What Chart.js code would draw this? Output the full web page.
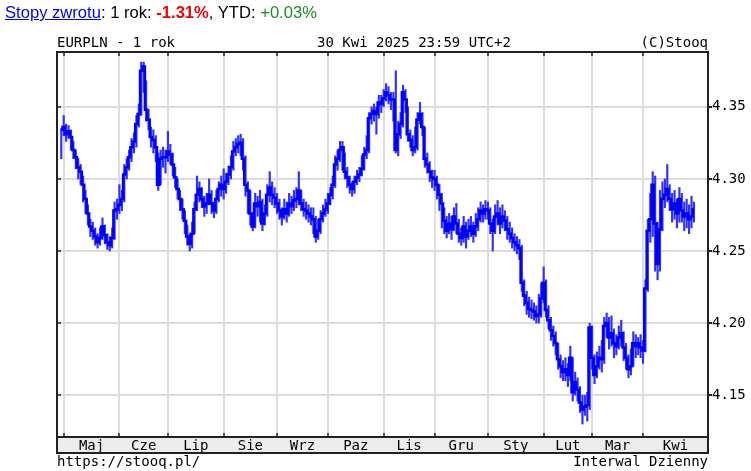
<!DOCTYPE html>
<html>
<head>
<meta charset="utf-8">
<script src="https://cdn.jsdelivr.net/npm/chart.js@4.4.1/dist/chart.umd.min.js"></script>
<style>
  body { margin: 0; background: #fff; }
  #wrap { position: relative; width: 751px; height: 471px; overflow: hidden; }
  #chart { position: absolute; left: 0; top: 0; }
  .t { position: absolute; white-space: nowrap; }
  .head { left: 5px; top: 3px; font: 16.6px "Liberation Sans", Arial, sans-serif; color: #000; }
  .head a { color: #0000ee; }
  .mono { font: 14px/16px "DejaVu Sans Mono", monospace; color: #000; }
</style>
</head>
<body>
<div id="wrap">
  <canvas id="chart" width="751" height="471"></canvas>
  <div class="t head"><a href="#">Stopy zwrotu</a>: 1 rok: <b style="color:#f00000">-1.31%</b>, YTD: <span style="color:#1e8c1e">+0.03%</span></div>
  <div class="t mono" style="left:57px; top:34px">EURPLN - 1 rok</div>
  <div class="t mono" style="left:317px; top:34px">30 Kwi 2025 23:59 UTC+2</div>
  <div class="t mono" style="right:43px; top:34px">(C)Stooq</div>
  <div class="t mono" style="left:57px; top:453px">https://stooq.pl/</div>
  <div class="t mono" style="right:43px; top:453px">Interwal Dzienny</div>
</div>
<script>
// EURPLN daily, 30 Apr 2024 .. 30 Apr 2025 (trading day index 0..261)
const monthLabels = ['Maj', 'Cze', 'Lip', 'Sie', 'Wrz', 'Paz', 'Lis', 'Gru', 'Sty', 'Lut', 'Mar', 'Kwi'];
const monthStarts = [1, 24, 44, 67, 89, 110, 133, 154, 176, 199, 219, 240];
const yTicks = [4.15, 4.20, 4.25, 4.30, 4.35];

const closes = [
  4.334, 4.336, 4.331, 4.333, 4.329, 4.320, 4.315, 4.308, 4.305, 4.296,
  4.286, 4.276, 4.267, 4.264, 4.260, 4.256, 4.259, 4.267, 4.261, 4.256,
  4.254, 4.259, 4.278, 4.279, 4.282, 4.286, 4.303, 4.308, 4.315, 4.322,
  4.326, 4.338, 4.345, 4.375, 4.378, 4.348, 4.341, 4.329, 4.327, 4.322,
  4.296, 4.314, 4.315, 4.315, 4.319, 4.317, 4.310, 4.301, 4.293, 4.286,
  4.279, 4.271, 4.260, 4.255, 4.262, 4.279, 4.289, 4.293, 4.286, 4.281,
  4.283, 4.289, 4.283, 4.278, 4.286, 4.293, 4.296, 4.293, 4.298, 4.303,
  4.308, 4.319, 4.322, 4.324, 4.325, 4.314, 4.296, 4.292, 4.276, 4.267,
  4.283, 4.281, 4.284, 4.269, 4.276, 4.289, 4.294, 4.289, 4.287, 4.283,
  4.278, 4.274, 4.279, 4.276, 4.283, 4.281, 4.285, 4.286, 4.292, 4.283,
  4.279, 4.278, 4.276, 4.274, 4.272, 4.260, 4.264, 4.272, 4.276, 4.279,
  4.283, 4.289, 4.296, 4.310, 4.314, 4.320, 4.322, 4.305, 4.301, 4.296,
  4.293, 4.298, 4.301, 4.303, 4.307, 4.317, 4.320, 4.342, 4.345, 4.347,
  4.345, 4.353, 4.352, 4.356, 4.360, 4.358, 4.355, 4.355, 4.320, 4.331,
  4.338, 4.360, 4.355, 4.331, 4.327, 4.320, 4.322, 4.341, 4.345, 4.336,
  4.314, 4.310, 4.305, 4.301, 4.300, 4.296, 4.289, 4.283, 4.271, 4.264,
  4.269, 4.265, 4.274, 4.269, 4.262, 4.259, 4.267, 4.260, 4.264, 4.267,
  4.262, 4.267, 4.272, 4.278, 4.276, 4.279, 4.278, 4.269, 4.264, 4.274,
  4.276, 4.269, 4.274, 4.271, 4.265, 4.262, 4.259, 4.256, 4.254, 4.252,
  4.228, 4.219, 4.214, 4.210, 4.209, 4.208, 4.205, 4.206, 4.217, 4.228,
  4.209, 4.202, 4.195, 4.191, 4.186, 4.175, 4.170, 4.166, 4.168, 4.164,
  4.176, 4.152, 4.159, 4.154, 4.145, 4.140, 4.142, 4.143, 4.197, 4.176,
  4.164, 4.170, 4.176, 4.175, 4.198, 4.200, 4.190, 4.193, 4.186, 4.184,
  4.190, 4.193, 4.183, 4.176, 4.168, 4.170, 4.186, 4.184, 4.186, 4.183,
  4.181, 4.224, 4.264, 4.272, 4.296, 4.269, 4.241, 4.265, 4.286, 4.289,
  4.293, 4.286, 4.279, 4.283, 4.276, 4.286, 4.278, 4.274, 4.276, 4.272,
  4.274, 4.279
];

const highs = [
  4.335, 4.344, 4.338, 4.337, 4.334, 4.326, 4.320, 4.314, 4.310, 4.302,
  4.292, 4.282, 4.272, 4.270, 4.266, 4.262, 4.266, 4.273, 4.268, 4.262,
  4.260, 4.266, 4.284, 4.286, 4.296, 4.292, 4.310, 4.314, 4.320, 4.328,
  4.332, 4.344, 4.352, 4.381, 4.381, 4.368, 4.348, 4.336, 4.334, 4.330,
  4.318, 4.320, 4.322, 4.320, 4.333, 4.324, 4.318, 4.308, 4.300, 4.292,
  4.286, 4.278, 4.268, 4.262, 4.270, 4.284, 4.302, 4.298, 4.294, 4.288,
  4.290, 4.300, 4.292, 4.284, 4.292, 4.298, 4.302, 4.307, 4.304, 4.309,
  4.316, 4.326, 4.328, 4.330, 4.331, 4.328, 4.316, 4.298, 4.292, 4.274,
  4.290, 4.288, 4.292, 4.286, 4.282, 4.296, 4.305, 4.298, 4.294, 4.290,
  4.286, 4.280, 4.286, 4.284, 4.290, 4.288, 4.292, 4.294, 4.305, 4.292,
  4.286, 4.284, 4.282, 4.280, 4.280, 4.274, 4.272, 4.278, 4.282, 4.286,
  4.290, 4.294, 4.302, 4.316, 4.320, 4.326, 4.326, 4.318, 4.308, 4.302,
  4.298, 4.302, 4.306, 4.308, 4.316, 4.322, 4.330, 4.346, 4.350, 4.352,
  4.350, 4.358, 4.358, 4.362, 4.366, 4.364, 4.360, 4.360, 4.375, 4.340,
  4.346, 4.365, 4.362, 4.350, 4.334, 4.330, 4.336, 4.346, 4.353, 4.346,
  4.336, 4.318, 4.312, 4.306, 4.306, 4.302, 4.296, 4.290, 4.280, 4.274,
  4.276, 4.274, 4.280, 4.283, 4.272, 4.266, 4.274, 4.270, 4.272, 4.274,
  4.270, 4.276, 4.280, 4.284, 4.282, 4.285, 4.284, 4.280, 4.272, 4.282,
  4.285, 4.280, 4.282, 4.278, 4.274, 4.270, 4.266, 4.262, 4.260, 4.258,
  4.254, 4.230, 4.222, 4.218, 4.216, 4.214, 4.212, 4.220, 4.228, 4.239,
  4.230, 4.212, 4.204, 4.198, 4.194, 4.186, 4.178, 4.174, 4.176, 4.172,
  4.184, 4.176, 4.166, 4.162, 4.156, 4.150, 4.150, 4.152, 4.200, 4.198,
  4.178, 4.180, 4.184, 4.188, 4.204, 4.207, 4.204, 4.205, 4.196, 4.192,
  4.198, 4.202, 4.194, 4.186, 4.178, 4.182, 4.194, 4.192, 4.190, 4.192,
  4.188, 4.230, 4.272, 4.290, 4.305, 4.302, 4.270, 4.292, 4.298, 4.300,
  4.310, 4.296, 4.290, 4.292, 4.286, 4.294, 4.290, 4.284, 4.286, 4.282,
  4.288, 4.284
];

const lows = [
  4.314, 4.330, 4.326, 4.328, 4.320, 4.314, 4.307, 4.300, 4.296, 4.284,
  4.276, 4.268, 4.260, 4.258, 4.254, 4.252, 4.254, 4.258, 4.255, 4.251,
  4.250, 4.252, 4.258, 4.272, 4.276, 4.278, 4.284, 4.300, 4.306, 4.312,
  4.318, 4.322, 4.336, 4.344, 4.360, 4.340, 4.334, 4.322, 4.318, 4.312,
  4.292, 4.296, 4.308, 4.304, 4.312, 4.310, 4.302, 4.294, 4.286, 4.278,
  4.272, 4.262, 4.254, 4.250, 4.252, 4.262, 4.278, 4.284, 4.280, 4.274,
  4.276, 4.282, 4.276, 4.273, 4.276, 4.284, 4.288, 4.286, 4.290, 4.296,
  4.300, 4.306, 4.316, 4.318, 4.316, 4.306, 4.288, 4.276, 4.268, 4.264,
  4.266, 4.274, 4.270, 4.264, 4.268, 4.274, 4.284, 4.282, 4.280, 4.276,
  4.272, 4.268, 4.272, 4.270, 4.274, 4.276, 4.278, 4.280, 4.282, 4.278,
  4.274, 4.272, 4.270, 4.268, 4.262, 4.256, 4.258, 4.262, 4.270, 4.274,
  4.276, 4.282, 4.286, 4.294, 4.306, 4.312, 4.306, 4.300, 4.294, 4.290,
  4.288, 4.290, 4.296, 4.298, 4.302, 4.306, 4.314, 4.318, 4.338, 4.340,
  4.331, 4.342, 4.346, 4.350, 4.354, 4.352, 4.348, 4.340, 4.318, 4.316,
  4.328, 4.336, 4.346, 4.326, 4.322, 4.316, 4.318, 4.320, 4.338, 4.330,
  4.308, 4.304, 4.298, 4.294, 4.292, 4.286, 4.278, 4.266, 4.262, 4.259,
  4.262, 4.258, 4.264, 4.262, 4.256, 4.254, 4.256, 4.252, 4.258, 4.260,
  4.256, 4.260, 4.264, 4.270, 4.270, 4.272, 4.272, 4.262, 4.250, 4.262,
  4.268, 4.262, 4.266, 4.264, 4.258, 4.256, 4.252, 4.250, 4.248, 4.244,
  4.222, 4.212, 4.206, 4.204, 4.203, 4.202, 4.200, 4.200, 4.204, 4.214,
  4.204, 4.196, 4.188, 4.184, 4.178, 4.168, 4.162, 4.160, 4.160, 4.156,
  4.160, 4.146, 4.150, 4.146, 4.138, 4.130, 4.136, 4.132, 4.140, 4.168,
  4.158, 4.162, 4.168, 4.166, 4.172, 4.190, 4.182, 4.184, 4.176, 4.178,
  4.182, 4.184, 4.174, 4.168, 4.162, 4.164, 4.170, 4.176, 4.178, 4.176,
  4.172, 4.180, 4.222, 4.256, 4.260, 4.236, 4.230, 4.236, 4.264, 4.280,
  4.284, 4.278, 4.270, 4.272, 4.266, 4.270, 4.270, 4.264, 4.266, 4.262,
  4.266, 4.270
];

const xMin = -1.76;
const xMax = 266.8;
const yMin = 4.121;
const yMax = 4.388;

// month label positions = middle of each month span
const bounds = monthStarts.concat([xMax]);
const monthMids = monthLabels.map((m, i) => (bounds[i] + bounds[i + 1]) / 2);

const MONO = 'DejaVu Sans Mono';

// frame, axis band borders and small ticks
const framePlugin = {
  id: 'frame',
  afterDraw(chart) {
    const { ctx, chartArea: a, scales } = chart;
    const bandBottom = a.bottom + 16;
    ctx.save();
    ctx.strokeStyle = '#222';
    ctx.lineWidth = 2;
    ctx.beginPath();
    ctx.moveTo(a.left - 1, a.top); ctx.lineTo(a.right + 1, a.top);
    ctx.moveTo(a.left, a.top); ctx.lineTo(a.left, bandBottom);
    ctx.moveTo(a.right, a.top); ctx.lineTo(a.right, bandBottom);
    ctx.moveTo(a.left, a.bottom); ctx.lineTo(a.right, a.bottom);
    ctx.moveTo(a.left - 1, bandBottom); ctx.lineTo(a.right + 1, bandBottom);
    ctx.stroke();
    ctx.lineWidth = 1.5;
    ctx.beginPath();
    monthStarts.forEach(v => {
      const x = Math.round(scales.x.getPixelForValue(v));
      ctx.moveTo(x, a.top); ctx.lineTo(x, a.top + 4);
      ctx.moveTo(x, a.bottom); ctx.lineTo(x, a.bottom - 4);
    });
    yTicks.forEach(v => {
      const y = Math.round(scales.y.getPixelForValue(v));
      ctx.moveTo(a.left, y); ctx.lineTo(a.left + 4, y);
    });
    ctx.stroke();
    ctx.restore();
  }
};

new Chart(document.getElementById('chart'), {
  type: 'bar',
  data: {
    datasets: [
      {
        type: 'line',
        data: closes.map((c, i) => ({ x: i, y: c })),
        borderColor: '#0000ff',
        borderWidth: 2.5,
        stepped: 'middle',
        pointRadius: 0,
        order: 0
      },
      {
        data: lows.map((l, i) => ({ x: i, y: [l, highs[i]] })),
        backgroundColor: '#3030ff',
        borderWidth: 0,
        barThickness: 1.5,
        order: 1
      }
    ]
  },
  options: {
    responsive: false,
    animation: false,
    devicePixelRatio: 1,
    layout: { padding: { left: 57, top: 52, right: 0, bottom: 18 } },
    plugins: { legend: { display: false }, tooltip: { enabled: false } },
    scales: {
      // month boundaries: grid lines only
      x: {
        type: 'linear',
        position: 'bottom',
        weight: 0,
        min: xMin,
        max: xMax,
        offset: false,
        border: { display: false },
        afterBuildTicks: scale => { scale.ticks = monthStarts.map(v => ({ value: v })); },
        afterFit: scale => { scale.height = 0; },
        grid: { offset: false, drawTicks: false, lineWidth: 2, color: '#dcdcdc' },
        ticks: { display: false }
      },
      // month names in the grey band
      xl: {
        type: 'linear',
        position: 'bottom',
        weight: 1,
        min: xMin,
        max: xMax,
        offset: false,
        backgroundColor: '#ececec',
        border: { display: false },
        afterBuildTicks: scale => { scale.ticks = monthMids.map(v => ({ value: v })); },
        afterFit: scale => { scale.height = 16; },
        grid: { display: false, offset: false, drawTicks: false },
        ticks: {
          autoSkip: false,
          maxRotation: 0,
          padding: 1,
          color: '#000',
          font: { family: MONO, size: 14 },
          callback: (v, i) => monthLabels[i]
        }
      },
      y: {
        position: 'right',
        min: yMin,
        max: yMax,
        border: { display: false },
        afterBuildTicks: scale => { scale.ticks = yTicks.map(v => ({ value: v })); },
        afterFit: scale => { scale.width = 43; },
        grid: { color: '#dcdcdc', lineWidth: 2, drawTicks: true, tickLength: 4, tickColor: '#222' },
        ticks: {
          padding: 0,
          color: '#000',
          font: { family: MONO, size: 14 },
          callback: v => v.toFixed(2)
        }
      }
    }
  },
  plugins: [framePlugin]
});
</script>
</body>
</html>
